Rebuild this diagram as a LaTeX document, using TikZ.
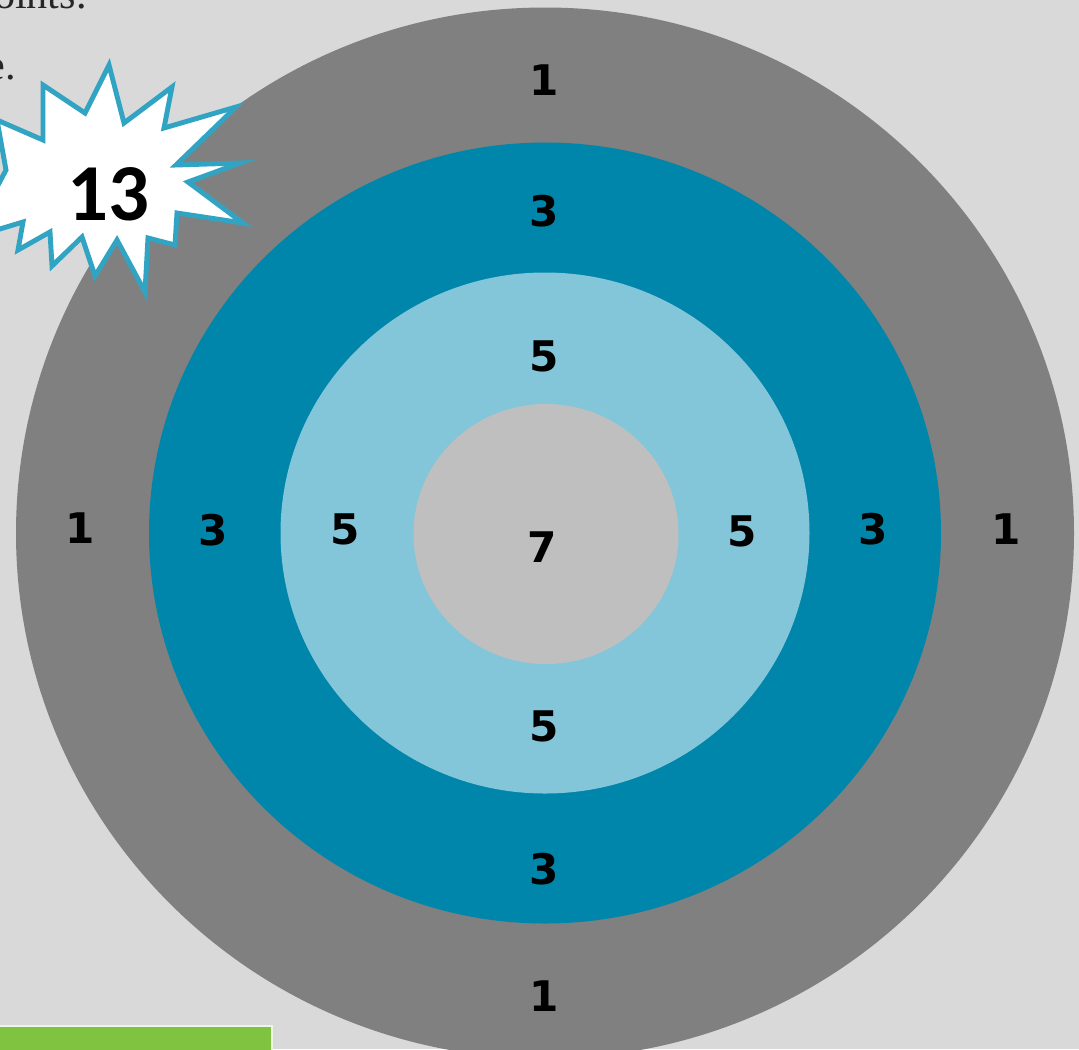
\documentclass[tikz,border=0pt]{standalone}
\usepackage{fontspec}
\setmainfont{Liberation Serif}
\newfontfamily\numfont{DejaVu Sans}
\newfontfamily\burstfont{Carlito}
\definecolor{bgpage}{HTML}{D9D9D9}
\definecolor{ringone}{HTML}{808080}
\definecolor{ringthree}{HTML}{0085AB}
\definecolor{ringfive}{HTML}{84C6D9}
\definecolor{ringseven}{HTML}{BFBFBF}
\definecolor{burstline}{HTML}{31A4C3}
\definecolor{tabgreen}{HTML}{80C340}
\begin{document}
\begin{tikzpicture}[x=0.02cm, y=-0.02cm,
          ringnum/.style={font=\numfont\bfseries\fontsize{24}{24}\selectfont, inner sep=0pt},
          cuttext/.style={font=\fontsize{24}{24}\selectfont, inner sep=0pt, text=black!85}]
        \useasboundingbox (0,0) rectangle (1079,1049);
        \clip (0,0) rectangle (1079,1049);
        \fill[bgpage] (0,0) rectangle (1079,1049);
        % target rings
        \fill[ringone] (545,533) ellipse [x radius=529, y radius=525.5];
        \fill[ringthree] (545,533) ellipse [x radius=396, y radius=390.5];
        \fill[ringfive] (545,533) ellipse [x radius=264.5, y radius=260.5];
        \fill[ringseven] (546,534) ellipse [x radius=132.5, y radius=130];
        % scores
        \node[ringnum] (top1) at (544,80) {1};
        \node[ringnum] (top3) at (544,211) {3};
        \node[ringnum] (top5) at (544,356) {5};
        \node[ringnum] (mid7) at (542,547) {7};
        \node[ringnum] (bot5) at (544,726) {5};
        \node[ringnum] (bot3) at (544,869) {3};
        \node[ringnum] (bot1) at (544,996) {1};
        \node[ringnum] (lft1) at (80,528) {1};
        \node[ringnum] (lft3) at (213,530) {3};
        \node[ringnum] (lft5) at (345,529) {5};
        \node[ringnum] (rgt5) at (742,531) {5};
        \node[ringnum] (rgt3) at (873,529) {3};
        \node[ringnum] (rgt1) at (1006,529) {1};
        % text cut at the page edge
        \node[cuttext, anchor=base east] (txtone) at (87,8) {oints.};
        \node[cuttext, anchor=base east] (txttwo) at (16,79) {e.};
        % green tab
        \fill[tabgreen, draw=white!85!tabgreen, line width=1pt] (-5,1026) rectangle (272,1060);
        % burst
        \draw[burstline, fill=white, line width=2.8pt, line join=miter]
          (109,65) -- (124,123) -- (172,87) -- (164,128) -- (236,107) -- (176,165)
          -- (240,163) -- (188,182) -- (243,223) -- (177,213) -- (175,245)
          -- (148,238) -- (145,292) -- (117,240) -- (95,276) -- (82,237)
          -- (52,266) -- (50,232) -- (18,250) -- (23,222) -- (-30,238)
          -- (6,170) -- (-3,120) -- (43,140) -- (43,85) -- (85,113) -- cycle;
        \node[font=\burstfont\bfseries\fontsize{46}{46}\selectfont, inner sep=0pt] (score) at (108,194) {13};
      \end{tikzpicture}
\end{document}
